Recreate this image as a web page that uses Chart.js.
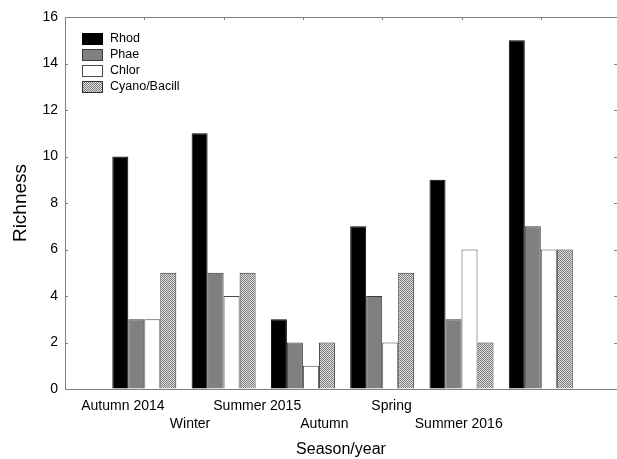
<!DOCTYPE html>
<html>
<head>
<meta charset="utf-8">
<script src="https://cdn.jsdelivr.net/npm/chart.js@4"></script>
<style>
  html, body { margin: 0; padding: 0; background: #fff; }
  #wrap { width: 617px; height: 459px; position: relative; }
</style>
</head>
<body>
<div id="wrap"><canvas id="c" width="617" height="459"></canvas></div>
<script>
// Richness by season/year for four algal groups
const categories = ['Autumn 2014', 'Winter', 'Summer 2015', 'Autumn', 'Spring', 'Summer 2016'];
const rhod  = [10, 11, 3, 7, 9, 15];
const phae  = [3, 5, 2, 4, 3, 7];
const chlor = [3, 4, 1, 2, 6, 6];
const cyano = [5, 5, 2, 5, 2, 6];
const seriesNames = ['Rhod', 'Phae', 'Chlor', 'Cyano/Bacill'];

const FONT = "'Liberation Sans', Arial, sans-serif";
const LEFT = 65, TOP = 17, BOTTOM_SPACE = 70;
const CAT_W = 79.3;                        // px per category unit
const X_MAX = (617 - LEFT) / CAT_W;        // plot continues past the right edge

// dotted fill used for the Cyano/Bacill bars
function dotPattern() {
  const p = document.createElement('canvas');
  p.width = 2; p.height = 2;
  const g = p.getContext('2d');
  g.fillStyle = '#e2e2e2'; g.fillRect(0, 0, 2, 2);
  g.fillStyle = '#7a7a7a'; g.fillRect(0, 0, 1, 1); g.fillRect(1, 1, 1, 1);
  return g.createPattern(p, 'repeat');
}

const toPoints = arr => arr.map((v, i) => ({ x: i + 1, y: v }));

const styles = [
  { backgroundColor: '#000000', borderColor: '#000000' },
  { backgroundColor: '#808080', borderColor: '#3a3a3a' },
  { backgroundColor: '#ffffff', borderColor: '#4a4a4a' },
  { backgroundColor: dotPattern(), borderColor: '#303030' }
];
const values = [rhod, phae, chlor, cyano];

const datasets = values.map((arr, k) => Object.assign({
  label: seriesNames[k],
  data: toPoints(arr),
  borderWidth: 1,
  xAxisID: 'x',
  yAxisID: 'y',
  categoryPercentage: 0.807,
  barPercentage: 1.0
}, styles[k]));

// frame, inward ticks and the in-plot legend
const framePlugin = {
  id: 'frame',
  afterDraw(chart) {
    const ctx = chart.ctx, a = chart.chartArea;
    const xs = chart.scales.x, ys = chart.scales.y;
    ctx.save();
    ctx.strokeStyle = '#808080';
    ctx.lineWidth = 1;
    ctx.beginPath();
    ctx.moveTo(a.left, a.top + 0.5); ctx.lineTo(a.right, a.top + 0.5);
    // top ticks at category centres
    for (let i = 1; i <= categories.length; i++) {
      const px = Math.round(xs.getPixelForValue(i)) + 0.5;
      ctx.moveTo(px, a.top); ctx.lineTo(px, a.top + 3);
    }
    // left and right ticks at each y value
    ys.ticks.forEach(t => {
      const py = Math.round(ys.getPixelForValue(t.value)) + 0.5;
      ctx.moveTo(a.left, py); ctx.lineTo(a.left + 3, py);
      ctx.moveTo(a.right, py); ctx.lineTo(a.right - 3, py);
    });
    ctx.stroke();

    // legend
    const bx = 82, by = 33, bw = 21, bh = 12, step = 16;
    ctx.font = '12.5px ' + FONT;
    ctx.textBaseline = 'middle';
    ctx.textAlign = 'left';
    chart.data.datasets.forEach((ds, k) => {
      const y = by + k * step;
      ctx.fillStyle = ds.backgroundColor;
      ctx.fillRect(bx, y, bw, bh);
      ctx.strokeStyle = ds.borderColor;
      ctx.strokeRect(bx + 0.5, y + 0.5, bw - 1, bh - 1);
      ctx.fillStyle = '#000';
      ctx.fillText(ds.label, bx + 28, y + bh / 2);
    });
    ctx.restore();
  }
};

new Chart(document.getElementById('c'), {
  type: 'bar',
  data: { datasets },
  options: {
    responsive: false,
    animation: false,
    layout: { padding: { top: TOP, left: 0, right: 0, bottom: 0 } },
    plugins: { legend: { display: false }, tooltip: { enabled: false } },
    scales: {
      x: {
        type: 'linear',
        display: false,
        offset: false,
        min: 0,
        max: X_MAX,
        ticks: { stepSize: 1 }
      },
      xl: {
        type: 'linear',
        position: 'bottom',
        offset: false,
        min: 0,
        max: X_MAX,
        afterBuildTicks(scale) {
          scale.ticks = categories.map((c, i) => ({ value: 0.73 + i * 0.847 }));
        },
        afterFit(scale) { scale.height = BOTTOM_SPACE; },
        grid: { offset: false, drawOnChartArea: false, drawTicks: false },
        border: { display: true, color: '#808080', width: 1 },
        ticks: {
          autoSkip: false,
          maxRotation: 0,
          minRotation: 0,
          padding: 8,
          color: '#000',
          font: { family: FONT, size: 14, lineHeight: 1.3 },
          callback: (v, i) => (i % 2 ? ['', categories[i]] : categories[i])
        },
        title: {
          display: true,
          text: 'Season/year',
          color: '#000',
          font: { family: FONT, size: 16 },
          padding: { top: 0, bottom: 0 }
        }
      },
      y: {
        type: 'linear',
        position: 'left',
        min: 0,
        max: 16,
        afterFit(scale) { scale.width = LEFT; },
        grid: { drawOnChartArea: false, drawTicks: false },
        border: { display: true, color: '#808080', width: 1 },
        ticks: {
          stepSize: 2,
          padding: 7,
          color: '#000',
          font: { family: FONT, size: 14 }
        },
        title: {
          display: true,
          text: 'Richness',
          color: '#000',
          font: { family: FONT, size: 19 },
          padding: { top: 9, bottom: 0 }
        }
      }
    }
  },
  plugins: [framePlugin]
});
</script>
</body>
</html>
